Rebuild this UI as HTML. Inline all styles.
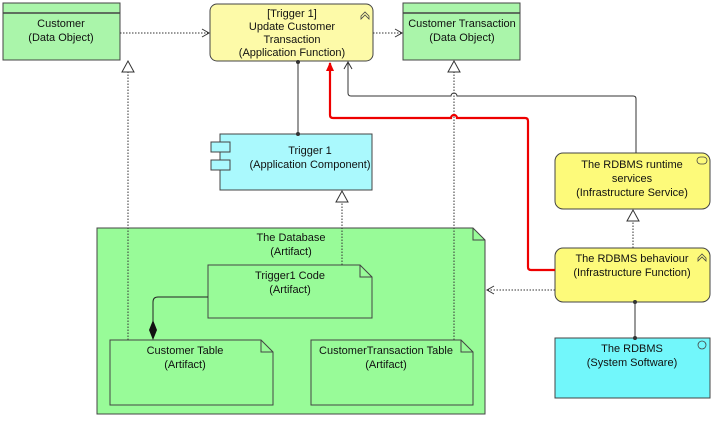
<!DOCTYPE html>
<html><head><style>
body{margin:0;background:#fff;}
svg text{font-family:"Liberation Sans",sans-serif;font-size:11px;fill:#111;text-anchor:middle;}
</style></head><body>
<svg width="720" height="419" viewBox="0 0 720 419" xmlns="http://www.w3.org/2000/svg">
<defs>
<marker id="open" markerWidth="10" markerHeight="10" refX="8" refY="5" orient="auto" markerUnits="userSpaceOnUse"><path d="M1,1 L8,5 L1,9" fill="none" stroke="#333" stroke-width="1"/></marker>
<marker id="tri" markerWidth="14" markerHeight="14" refX="12" refY="7" orient="auto" markerUnits="userSpaceOnUse"><path d="M1,1 L12,7 L1,13 Z" fill="#fff" stroke="#333" stroke-width="1"/></marker>
<marker id="red" markerWidth="10" markerHeight="10" refX="8" refY="5" orient="auto" markerUnits="userSpaceOnUse"><path d="M0,1 L9,5 L0,9 Z" fill="#e00"/></marker>
</defs>
<rect x="3" y="3" width="117" height="57" fill="#aaf5aa" stroke="#444"/>
<line x1="3" y1="13" x2="120" y2="13" stroke="#444" stroke-width="1.5"/>
<text x="61" y="27">Customer</text><text x="61" y="41">(Data Object)</text>
<rect x="403" y="3" width="117" height="57" fill="#aaf5aa" stroke="#444"/>
<line x1="403" y1="13" x2="520" y2="13" stroke="#444" stroke-width="1.5"/>
<text x="462" y="27">Customer Transaction</text><text x="462" y="41">(Data Object)</text>
<rect x="210" y="4" width="163" height="57" rx="7" fill="#fdfaa8" stroke="#444"/>
<text x="292" y="17">[Trigger 1]</text><text x="292" y="30">Update Customer</text><text x="292" y="43">Transaction</text><text x="292" y="56">(Application Function)</text>
<path d="M361,16 L365,12 L369,16 L369,19 L365,15 L361,19 Z" fill="none" stroke="#444" stroke-width="0.8"/>
<rect x="220" y="134" width="152" height="56" fill="#aaf9fd" stroke="#444"/>
<rect x="211" y="142" width="19" height="10" fill="#aaf9fd" stroke="#444"/>
<rect x="211" y="160" width="19" height="10" fill="#aaf9fd" stroke="#444"/>
<text x="310" y="154">Trigger 1</text><text x="310" y="168">(Application Component)</text>
<rect x="555" y="153" width="155" height="56" rx="8" fill="#fdfa7a" stroke="#444"/>
<rect x="697" y="157" width="10" height="7" rx="3.5" fill="none" stroke="#444" stroke-width="0.8"/>
<text x="632" y="168">The RDBMS runtime</text><text x="632" y="182">services</text><text x="632" y="196">(Infrastructure Service)</text>
<rect x="555" y="248" width="155" height="54" rx="8" fill="#fdfa7a" stroke="#444"/>
<path d="M698,258 L702,254 L706,258 L706,261 L702,257 L698,261 Z" fill="none" stroke="#444" stroke-width="0.8"/>
<text x="632" y="262">The RDBMS behaviour</text><text x="632" y="276">(Infrastructure Function)</text>
<rect x="555" y="338" width="155" height="60" fill="#72f7fb" stroke="#444"/>
<circle cx="702" cy="345" r="4" fill="none" stroke="#444" stroke-width="0.8"/>
<text x="632" y="352">The RDBMS</text><text x="632" y="366">(System Software)</text>
<path d="M97,228 L473,228 L485,240 L485,414 L97,414 Z" fill="#98fb98" stroke="#444"/>
<path d="M473,228 L473,240 L485,240" fill="none" stroke="#444"/>
<text x="291" y="241">The Database</text><text x="291" y="255">(Artifact)</text>
<path d="M208,265 L360,265 L372,277 L372,318 L208,318 Z" fill="#98fb98" stroke="#444"/>
<path d="M360,265 L360,277 L372,277" fill="none" stroke="#444"/>
<text x="290" y="279">Trigger1 Code</text><text x="290" y="293">(Artifact)</text>
<path d="M110,340 L261,340 L273,352 L273,405 L110,405 Z" fill="#98fb98" stroke="#444"/>
<path d="M261,340 L261,352 L273,352" fill="none" stroke="#444"/>
<text x="185" y="354">Customer Table</text><text x="185" y="368">(Artifact)</text>
<path d="M311,340 L461,340 L473,352 L473,405 L311,405 Z" fill="#98fb98" stroke="#444"/>
<path d="M461,340 L461,352 L473,352" fill="none" stroke="#444"/>
<text x="386" y="354">CustomerTransaction Table</text><text x="386" y="368">(Artifact)</text>
<line x1="120" y1="33" x2="209" y2="33" stroke="#333" stroke-dasharray="1.5,1.5" marker-end="url(#open)"/>
<line x1="373" y1="33" x2="402" y2="33" stroke="#333" stroke-dasharray="1.5,1.5" marker-end="url(#open)"/>
<line x1="298" y1="62" x2="298" y2="134" stroke="#333"/>
<circle cx="298" cy="62" r="2" fill="#333"/><circle cx="298" cy="134" r="2" fill="#333"/>
<line x1="342" y1="265" x2="342" y2="191" stroke="#333" stroke-dasharray="1.5,1.5" marker-end="url(#tri)"/>
<line x1="128" y1="340" x2="128" y2="61" stroke="#333" stroke-dasharray="1.5,1.5" marker-end="url(#tri)"/>
<line x1="454" y1="340" x2="454" y2="61" stroke="#333" stroke-dasharray="1.5,1.5" marker-end="url(#tri)"/>
<path d="M636,153 L636,99 Q636,96 633,96 L457,96 A3,3 0 0 0 451,96 L351,96 Q348,96 348,93 L348,62" fill="none" stroke="#333" marker-end="url(#open)"/>
<path d="M555,270 L531,270 Q528,270 528,267 L528,121 Q528,118 525,118 L457,118 A3,3 0 0 0 451,118 L333,118 Q330,118 330,115 L330,63" fill="none" stroke="#e00" stroke-width="2.2" marker-end="url(#red)"/>
<line x1="633" y1="248" x2="633" y2="210" stroke="#333" stroke-dasharray="1.5,1.5" marker-end="url(#tri)"/>
<line x1="555" y1="290" x2="487" y2="290" stroke="#333" stroke-dasharray="1.5,1.5" marker-end="url(#open)"/>
<line x1="635" y1="302" x2="635" y2="338" stroke="#333"/>
<circle cx="635" cy="302" r="2" fill="#333"/><circle cx="635" cy="338" r="2" fill="#333"/>
<path d="M208,297 L158,297 Q153,297 153,302 L153,322" fill="none" stroke="#222"/>
<path d="M153,320 L157,330 L153,340 L149,330 Z" fill="#111"/>
</svg>
</body></html>
